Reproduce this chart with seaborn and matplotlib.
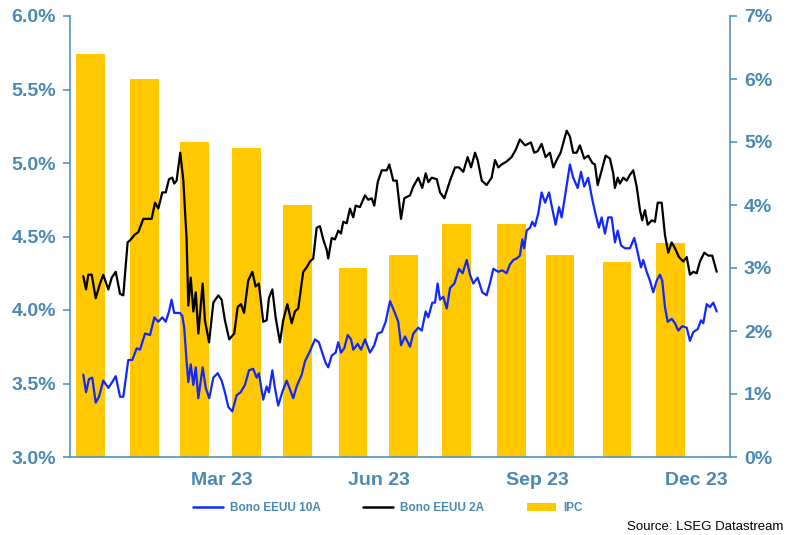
import pandas as pd
import matplotlib
matplotlib.use('Agg')
import matplotlib.pyplot as plt
from matplotlib.ticker import FuncFormatter, MultipleLocator
from matplotlib.lines import Line2D
from matplotlib.patches import Patch
import seaborn as sns

# dias desde el 1 ene 2023 / rentabilidad (%)
dias_10a = [9.6, 11.2, 12.9, 14.8, 16.8, 18.7, 21.2, 24.1, 26.4, 28.4,
            30.9, 32.8, 35.7, 38.0, 40.6, 42.5, 45.4, 48.3, 50.8, 53.1,
            55.4, 57.4, 59.3, 60.8, 62.3, 65.6, 67.0, 68.1, 69.5, 70.5,
            71.9, 73.4, 74.8, 76.3, 78.8, 80.6, 82.6, 85.0, 87.5, 89.8,
            91.7, 93.7, 96.0, 98.5, 100.8, 103.3, 105.7, 108.1, 110.1, 111.4,
            113.9, 115.9, 117.2, 119.2, 120.7, 122.6, 124.9, 127.5, 129.4, 131.3,
            133.3, 136.2, 138.1, 141.0, 143.9, 146.2, 148.1, 150.1, 151.6, 153.6,
            155.9, 157.4, 159.0, 160.9, 162.9, 164.8, 166.1, 168.7, 170.6, 172.9,
            175.8, 178.3, 180.3, 182.6, 184.9, 187.4, 189.9, 192.2, 193.8, 196.1,
            199.0, 200.9, 203.8, 205.8, 208.1, 209.6, 211.9, 213.5, 215.0, 216.4,
            218.3, 220.3, 222.2, 224.7, 227.4, 229.5, 231.9, 233.8, 235.7, 238.2,
            240.9, 243.4, 245.3, 247.3, 250.2, 252.5, 255.0, 256.9, 258.9, 260.8,
            262.7, 264.1, 265.2, 266.6, 268.6, 269.9, 271.4, 273.4, 275.3, 277.3,
            279.6, 281.1, 283.4, 285.4, 286.9, 288.8, 291.7, 293.6, 296.2, 298.1,
            300.0, 302.3, 304.7, 306.6, 308.5, 310.1, 312.0, 313.9, 315.9, 317.8,
            319.4, 321.3, 323.6, 326.5, 329.0, 331.0, 332.9, 334.2, 336.2, 338.1,
            340.0, 342.0, 343.9, 345.2, 346.8, 348.4, 350.7, 352.6, 354.5, 356.8,
            359.4, 361.3, 363.2, 365.8, 367.7, 369.0, 371.0, 372.9, 374.8, 376.8]
bono_10a = [3.56, 3.44, 3.53, 3.54, 3.37, 3.41, 3.52, 3.47, 3.51, 3.55,
            3.41, 3.41, 3.66, 3.66, 3.74, 3.73, 3.84, 3.83, 3.95, 3.92,
            3.95, 3.92, 3.99, 4.07, 3.98, 3.98, 3.96, 3.88, 3.65, 3.51,
            3.63, 3.49, 3.61, 3.40, 3.61, 3.47, 3.40, 3.54, 3.57, 3.52,
            3.44, 3.34, 3.31, 3.42, 3.44, 3.49, 3.59, 3.60, 3.54, 3.57,
            3.39, 3.48, 3.44, 3.59, 3.47, 3.35, 3.44, 3.52, 3.46, 3.40,
            3.48, 3.56, 3.65, 3.72, 3.80, 3.78, 3.71, 3.64, 3.61, 3.69,
            3.71, 3.78, 3.71, 3.74, 3.83, 3.80, 3.73, 3.77, 3.73, 3.80,
            3.71, 3.76, 3.84, 3.85, 3.92, 4.06, 3.99, 3.92, 3.76, 3.82,
            3.75, 3.84, 3.88, 3.86, 3.99, 3.95, 4.05, 4.05, 4.18, 4.07,
            4.09, 4.01, 4.15, 4.18, 4.28, 4.25, 4.34, 4.24, 4.18, 4.22,
            4.12, 4.10, 4.18, 4.28, 4.26, 4.27, 4.25, 4.31, 4.34, 4.35,
            4.37, 4.48, 4.42, 4.54, 4.56, 4.60, 4.57, 4.66, 4.80, 4.73,
            4.80, 4.71, 4.58, 4.70, 4.63, 4.77, 4.99, 4.90, 4.83, 4.94,
            4.84, 4.90, 4.75, 4.65, 4.56, 4.63, 4.52, 4.63, 4.63, 4.46,
            4.54, 4.44, 4.42, 4.42, 4.49, 4.39, 4.29, 4.34, 4.26, 4.20,
            4.12, 4.20, 4.24, 4.20, 4.02, 3.92, 3.94, 3.91, 3.86, 3.89,
            3.88, 3.79, 3.85, 3.87, 3.93, 3.91, 4.04, 4.02, 4.05, 3.99]

dias_2a = [9.6, 11.2, 12.5, 14.5, 16.8, 19.3, 21.2, 24.1, 26.1, 28.4,
           30.9, 32.8, 35.3, 37.2, 39.2, 41.5, 44.4, 49.2, 51.2, 53.1,
           55.4, 57.4, 59.3, 61.2, 62.3, 63.7, 65.8, 67.6, 69.5, 70.5,
           71.9, 73.4, 74.8, 76.3, 78.8, 80.1, 82.5, 85.0, 87.9, 89.8,
           91.7, 94.2, 97.1, 99.1, 101.0, 102.8, 105.2, 107.6, 109.5, 111.4,
           113.9, 115.9, 117.2, 119.2, 121.1, 123.6, 125.5, 127.9, 130.4, 132.3,
           134.2, 137.1, 139.1, 141.0, 142.9, 144.9, 146.8, 148.7, 150.7, 151.6,
           153.6, 155.5, 157.4, 159.0, 160.3, 162.3, 164.2, 166.1, 167.5, 170.0,
           172.9, 174.8, 176.8, 178.3, 180.3, 182.6, 185.5, 187.0, 189.3, 191.3,
           193.8, 195.7, 199.0, 200.9, 203.8, 206.1, 208.1, 209.6, 211.6, 214.5,
           216.4, 218.9, 222.2, 225.1, 227.4, 229.9, 232.4, 234.4, 236.7, 238.2,
           240.6, 243.4, 246.3, 248.3, 250.2, 252.1, 255.0, 257.9, 260.3, 262.7,
           265.7, 269.1, 271.0, 273.0, 275.3, 277.6, 280.1, 282.1, 284.0, 286.3,
           289.8, 291.7, 293.6, 295.6, 297.5, 300.0, 302.3, 304.7, 306.2, 307.8,
           310.1, 312.4, 314.9, 316.8, 317.8, 319.4, 320.7, 322.6, 324.6, 326.5,
           328.4, 330.4, 332.3, 333.6, 335.2, 336.8, 339.1, 341.0, 342.6, 344.9,
           346.8, 348.7, 350.7, 352.6, 354.9, 357.4, 359.4, 361.3, 363.2, 365.2,
           367.1, 369.6, 371.9, 374.2, 376.8]
bono_2a = [4.23, 4.14, 4.24, 4.24, 4.08, 4.18, 4.24, 4.14, 4.22, 4.26,
           4.11, 4.10, 4.46, 4.48, 4.51, 4.53, 4.62, 4.62, 4.73, 4.69,
           4.80, 4.80, 4.89, 4.90, 4.86, 4.88, 5.07, 4.88, 4.48, 4.03,
           4.22, 3.99, 4.12, 3.84, 4.18, 3.93, 3.78, 4.05, 4.10, 4.07,
           3.93, 3.80, 3.84, 4.02, 4.04, 3.98, 4.20, 4.26, 4.16, 4.18,
           3.92, 3.93, 4.08, 4.14, 3.95, 3.78, 3.93, 4.04, 3.91, 3.99,
           4.01, 4.26, 4.29, 4.33, 4.35, 4.56, 4.57, 4.48, 4.41, 4.35,
           4.49, 4.48, 4.54, 4.52, 4.60, 4.59, 4.69, 4.63, 4.71, 4.70,
           4.78, 4.75, 4.76, 4.71, 4.87, 4.95, 4.95, 4.99, 4.88, 4.88,
           4.62, 4.76, 4.78, 4.84, 4.90, 4.83, 4.93, 4.87, 4.90, 4.89,
           4.80, 4.76, 4.88, 4.97, 4.97, 4.94, 5.04, 4.97, 5.07, 5.02,
           4.88, 4.85, 4.90, 5.02, 4.97, 4.99, 5.01, 5.04, 5.09, 5.16,
           5.12, 5.14, 5.07, 5.08, 5.13, 5.04, 5.07, 4.97, 5.02, 5.07,
           5.22, 5.18, 5.07, 5.07, 5.12, 5.03, 5.05, 5.00, 4.99, 4.85,
           4.95, 5.05, 5.03, 4.93, 4.83, 4.90, 4.86, 4.90, 4.88, 4.92,
           4.95, 4.84, 4.68, 4.61, 4.68, 4.58, 4.61, 4.60, 4.73, 4.73,
           4.51, 4.39, 4.46, 4.42, 4.36, 4.33, 4.36, 4.24, 4.26, 4.25,
           4.33, 4.39, 4.37, 4.37, 4.26]

# IPC EEUU interanual (%), un dato por mes
meses_ipc = ['2023-01-15', '2023-02-15', '2023-03-16', '2023-04-15', '2023-05-15', '2023-06-16',
             '2023-07-15', '2023-08-15', '2023-09-16', '2023-10-14', '2023-11-16', '2023-12-17']
ipc = [6.4, 6.0, 5.0, 4.9, 4.0, 3.0, 3.2, 3.7, 3.7, 3.2, 3.1, 3.4]

fechas_ticks = ['2023-04-01', '2023-07-01', '2023-10-01', '2024-01-01']
etiquetas_x = ['Mar 23', 'Jun 23', 'Sep 23', 'Dec 23']

inicio = pd.Timestamp('2023-01-01')
dias_ipc = [(pd.Timestamp(m) - inicio).days for m in meses_ipc]
dias_ticks = [(pd.Timestamp(f) - inicio).days for f in fechas_ticks]

sns.set_style('white')
plt.rcParams['font.family'] = ['Liberation Sans', 'DejaVu Sans']

azul_eje = '#5493bd'
azul_texto = '#4a89b4'
azul_linea = '#1028ff'
amarillo = '#ffc800'

fig = plt.figure(figsize=(7.91, 5.35), dpi=100)
ax = fig.add_axes([70 / 791, 78 / 535, 660 / 791, 441 / 535])
ax2 = ax.twinx()

# barras IPC (eje derecho)
sns.barplot(x=dias_ipc, y=ipc, ax=ax2, native_scale=True, orient='x', width=16.1 / 27,
            color=amarillo, saturation=1, errorbar=None, linewidth=0)

# rentabilidades (eje izquierdo)
sns.lineplot(x=dias_10a, y=bono_10a, ax=ax, color=azul_linea, linewidth=1.6,
             estimator=None, sort=False)
sns.lineplot(x=dias_2a, y=bono_2a, ax=ax, color='black', linewidth=1.6,
             estimator=None, sort=False)

ax.set_zorder(ax2.get_zorder() + 1)
ax.patch.set_visible(False)

ax.set_ylim(3, 6)
ax.yaxis.set_major_locator(MultipleLocator(0.5))
ax.yaxis.set_major_formatter(FuncFormatter(lambda v, p: f'{v:.1f}%'))
ax2.set_ylim(0, 7)
ax2.yaxis.set_major_locator(MultipleLocator(1))
ax2.yaxis.set_major_formatter(FuncFormatter(lambda v, p: f'{v:.0f}%'))

ax.set_xlim(1.9, 384.5)
ax.set_xticks(dias_ticks)
ax.set_xticklabels(etiquetas_x)
ax.set_xlabel('')
ax.set_ylabel('')
ax2.set_ylabel('')

for a in [ax, ax2]:
    a.tick_params(axis='both', direction='out', length=5, width=1.2, color=azul_eje,
                  labelcolor=azul_texto, labelsize=14, pad=5)
    for lab in a.get_xticklabels() + a.get_yticklabels():
        lab.set_fontweight('bold')
    for s in a.spines.values():
        s.set_color(azul_eje)
        s.set_linewidth(1.2)
    a.spines['top'].set_visible(False)
    a.grid(False)
ax.tick_params(axis='x', pad=6)

ax.spines['right'].set_visible(False)
ax2.spines['left'].set_visible(False)
ax2.spines['bottom'].set_visible(False)

handles = [Line2D([], [], color=azul_linea, linewidth=1.8),
           Line2D([], [], color='black', linewidth=1.8),
           Patch(facecolor=amarillo, edgecolor='none')]
fig.legend(handles, ['Bono EEUU 10A', 'Bono EEUU 2A', 'IPC'], loc='center',
           bbox_to_anchor=(388 / 791, 1 - 508 / 535), ncol=3, frameon=False,
           prop={'weight': 'bold', 'size': 8.5},
           labelcolor=azul_texto, handlelength=2.5, handletextpad=0.6, columnspacing=3.6)

fig.text(783 / 791, 1 - 527.5 / 535, 'Source: LSEG Datastream', ha='right', va='center',
         fontsize=9.5, color='black')

fig.savefig('out.png', dpi=100)
